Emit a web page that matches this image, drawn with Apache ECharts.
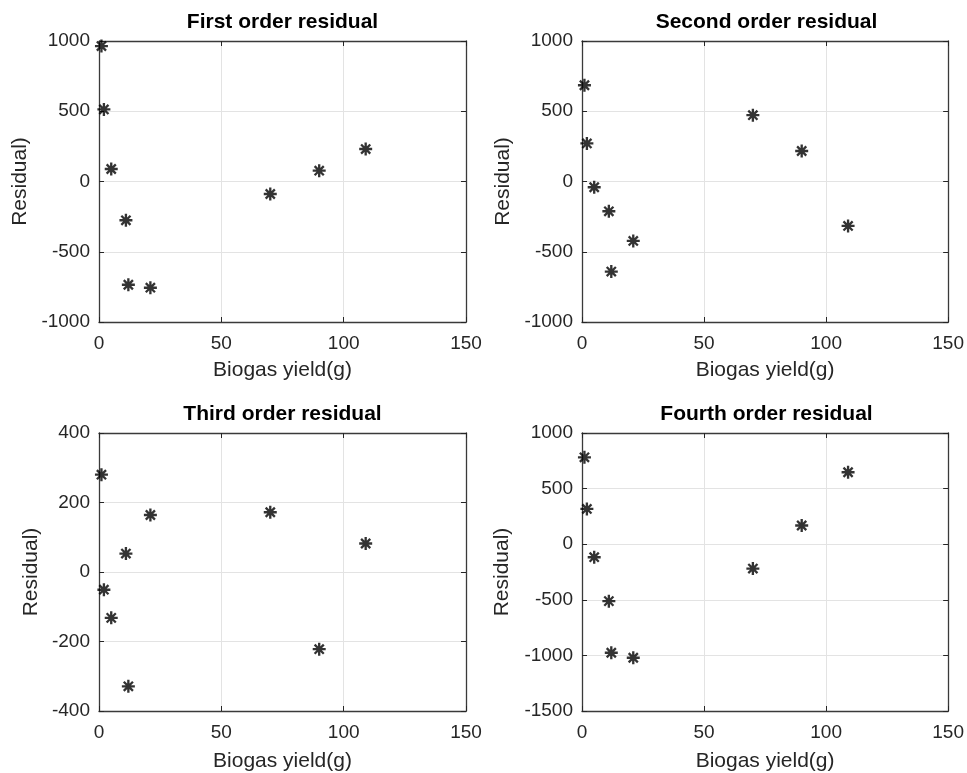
<!DOCTYPE html>
<html>
<head>
<meta charset="utf-8">
<script src="https://cdn.jsdelivr.net/npm/echarts@6/dist/echarts.min.js"></script>
<style>html,body{margin:0;padding:0;background:#fff;}#c{width:967px;height:773px;}</style>
</head>
<body>
<div id="c"></div>
<script>
// ---- data ----
const biogasYield = [1, 2, 5, 11, 12, 21, 70, 90, 109];
const firstOrder  = [964, 513, 89, -276, -735, -756, -89, 77, 231];
const secondOrder = [685, 271, -41, -212, -641, -423, 472, 217, -316];
const thirdOrder  = [280, -51, -132, 53, -329, 164, 172, -222, 82];
const fourthOrder = [781, 317, -117, -512, -976, -1021, -219, 168, 647];
const titles = ['First order residual', 'Second order residual', 'Third order residual', 'Fourth order residual'];
const xTicks = {min: 0, max: 150, interval: 50};
const yRanges = [
  {min: -1000, max: 1000, interval: 500},
  {min: -1000, max: 1000, interval: 500},
  {min: -400, max: 400, interval: 200},
  {min: -1500, max: 1000, interval: 500}
];
const seriesData = [firstOrder, secondOrder, thirdOrder, fourthOrder];

// ---- layout ----
const grids = [
  {left: 99, top: 41, width: 367, height: 281},
  {left: 582, top: 41, width: 369, height: 281},
  {left: 99, top: 433, width: 367, height: 279},
  {left: 582, top: 433, width: 369, height: 278}
];
const yNameGap = [68, 68, 57, 69];
const xNameGap = [38, 38, 40, 40];
const FONT = 'Liberation Sans, Arial, Helvetica, sans-serif';
const TXT = '#262626';
const star = 'path://M0,8.2L20,8.2L20,11.8L0,11.8Z M8.2,0L11.8,0L11.8,20L8.2,20Z M4.2,1.7L18.3,15.8L15.8,18.3L1.7,4.2Z M15.8,1.7L18.3,4.2L4.2,18.3L1.7,15.8Z';
const plain = v => String(v);

const option = {
  backgroundColor: '#fff',
  animation: false,
  title: [], grid: [], xAxis: [], yAxis: [], series: []
};

grids.forEach((g, i) => {
  option.grid.push({left: g.left, top: g.top, width: g.width, height: g.height, containLabel: false});
  option.title.push({
    text: titles[i], left: g.left + g.width / 2, top: i < 2 ? 12 : 404, textAlign: 'center', padding: 0,
    textStyle: {fontFamily: FONT, fontSize: 21, fontWeight: 'bold', color: '#000'}
  });
  const axLine = {show: true, onZero: false, lineStyle: {color: '#3a3a3a', width: 1.3}};
  const tick = {show: true, inside: true, length: 5, lineStyle: {color: TXT}};
  option.xAxis.push({
    type: 'value', gridIndex: i, position: 'bottom', min: xTicks.min, max: xTicks.max, interval: xTicks.interval,
    name: 'Biogas yield(g)', nameLocation: 'middle', nameGap: xNameGap[i],
    nameTextStyle: {fontFamily: FONT, fontSize: 21, color: TXT},
    axisLine: axLine, axisTick: tick,
    axisLabel: {fontFamily: FONT, fontSize: 19, color: TXT, margin: 12, formatter: plain},
    splitLine: {show: true, lineStyle: {color: '#e3e3e3', width: 1}}
  });
  option.xAxis.push({
    type: 'value', gridIndex: i, position: 'top', min: xTicks.min, max: xTicks.max, interval: xTicks.interval,
    axisLine: axLine, axisTick: tick, axisLabel: {show: false}, splitLine: {show: false}
  });
  const yr = yRanges[i];
  option.yAxis.push({
    type: 'value', gridIndex: i, position: 'left', min: yr.min, max: yr.max, interval: yr.interval,
    name: 'Residual)', nameLocation: 'middle', nameGap: yNameGap[i],
    nameTextStyle: {fontFamily: FONT, fontSize: 21, color: TXT},
    axisLine: axLine, axisTick: tick,
    axisLabel: {fontFamily: FONT, fontSize: 19, color: TXT, margin: 9, formatter: plain},
    splitLine: {show: true, lineStyle: {color: '#e3e3e3', width: 1}}
  });
  option.yAxis.push({
    type: 'value', gridIndex: i, position: 'right', min: yr.min, max: yr.max, interval: yr.interval,
    axisLine: axLine, axisTick: tick, axisLabel: {show: false}, splitLine: {show: false}
  });
  option.series.push({
    type: 'scatter', xAxisIndex: i * 2, yAxisIndex: i * 2,
    symbol: star, symbolSize: 13,
    itemStyle: {color: '#000'},
    data: biogasYield.map((x, k) => [x, seriesData[i][k]])
  });
});

const chart = echarts.init(document.getElementById('c'), null, {renderer: 'canvas'});
chart.setOption(option);
</script>
</body>
</html>
